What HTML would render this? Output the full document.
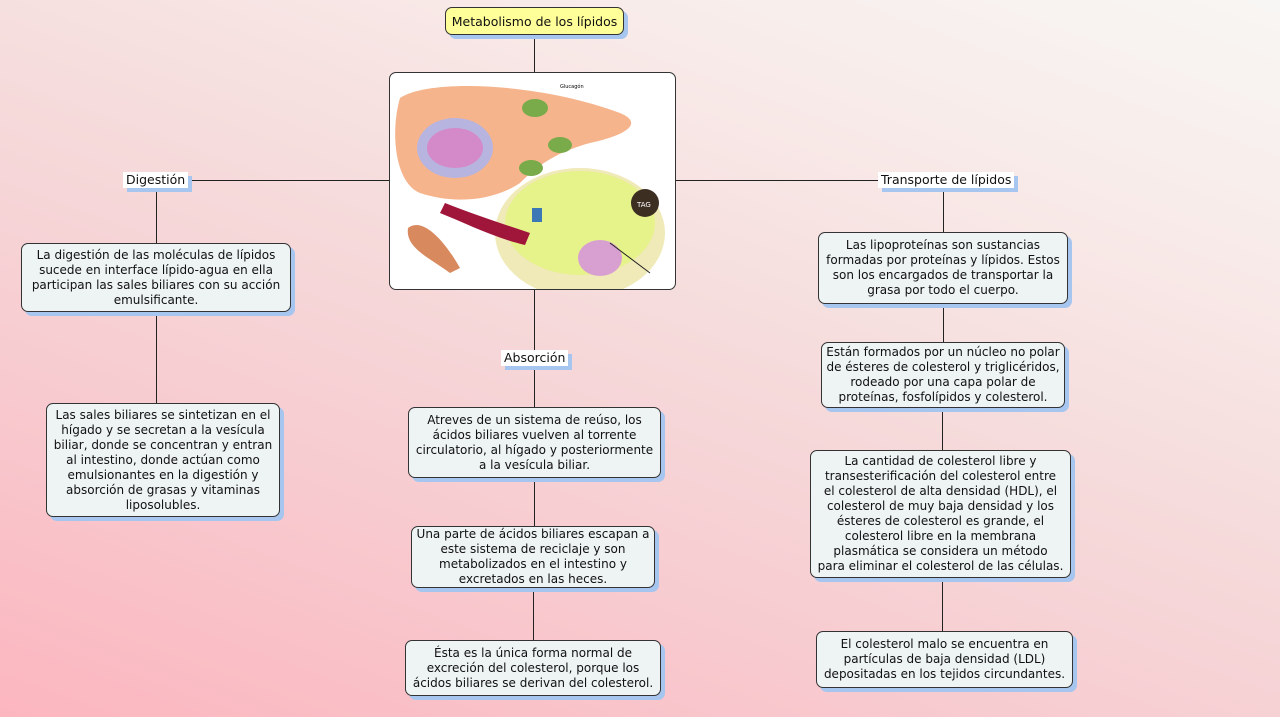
<!DOCTYPE html>
<html><head><meta charset="utf-8"><style>
*{margin:0;padding:0;box-sizing:border-box}
body{width:1280px;height:717px;overflow:hidden;position:relative;font-family:"DejaVu Sans","Liberation Sans",sans-serif;font-size:12px;color:#111;
background:linear-gradient(20deg,#fcb6bf 0%,#f7cbd0 30%,#f6dcdc 55%,#f8ecea 80%,#f8f6f4 100%);}
.l{position:absolute;background:#222}
.b{position:absolute;background:#eef3f4;border:1px solid #333;border-radius:7px;box-shadow:4px 4px 0 #a6c6ef;text-align:center;line-height:15px;white-space:nowrap;display:flex;align-items:center;justify-content:center}
.t{position:absolute;background:#fff;box-shadow:4px 4px 0 #a6c6ef;font-size:12.5px;line-height:16px;padding:0 3px;white-space:nowrap}
</style></head><body>
<div class="l" style="left:534px;top:35px;width:1px;height:37px"></div>
<div class="l" style="left:189px;top:180px;width:200px;height:1px"></div>
<div class="l" style="left:156px;top:188px;width:1px;height:55px"></div>
<div class="l" style="left:156px;top:312px;width:1px;height:91px"></div>
<div class="l" style="left:534px;top:289px;width:1px;height:61px"></div>
<div class="l" style="left:534px;top:366px;width:1px;height:41px"></div>
<div class="l" style="left:534px;top:478px;width:1px;height:48px"></div>
<div class="l" style="left:533px;top:588px;width:1px;height:52px"></div>
<div class="l" style="left:675px;top:180px;width:203px;height:1px"></div>
<div class="l" style="left:943px;top:188px;width:1px;height:44px"></div>
<div class="l" style="left:943px;top:304px;width:1px;height:38px"></div>
<div class="l" style="left:942px;top:408px;width:1px;height:42px"></div>
<div class="l" style="left:942px;top:578px;width:1px;height:53px"></div>

<div class="b" style="left:445px;top:7px;width:179px;height:28px;background:#ffff99;font-size:12.5px">Metabolismo de los lípidos</div>

<div class="b" style="left:389px;top:72px;width:287px;height:218px;background:#fff;box-shadow:none;overflow:hidden">
<svg width="285" height="216" viewBox="0 0 285 216">
<path d="M10 25 C40 5,150 10,230 40 C250 48,245 60,200 70 C170 78,150 90,130 110 C100 130,60 130,30 120 C5 110,0 60,10 25Z" fill="#f5b48c"/>
<ellipse cx="65" cy="75" rx="38" ry="30" fill="#b8b4e0"/>
<ellipse cx="65" cy="75" rx="28" ry="20" fill="#d489c9"/>
<ellipse cx="190" cy="160" rx="85" ry="65" fill="#f0e9b8"/>
<ellipse cx="190" cy="150" rx="75" ry="52" fill="#e6f28a"/>
<circle cx="255" cy="130" r="14" fill="#3d2e22"/>
<text x="247" y="134" font-size="7" fill="#fff" font-family="DejaVu Sans">TAG</text>
<ellipse cx="145" cy="35" rx="13" ry="9" fill="#7aab4a"/>
<ellipse cx="170" cy="72" rx="12" ry="8" fill="#7aab4a"/>
<ellipse cx="141" cy="95" rx="12" ry="8" fill="#7aab4a"/>
<path d="M55 130 C80 140,110 150,140 160 L135 172 C105 165,75 150,50 140Z" fill="#a0153a"/>
<ellipse cx="210" cy="185" rx="22" ry="18" fill="#d8a0d0"/>
<path d="M18 155 C30 145,50 160,70 195 L60 200 C40 185,15 175,18 155Z" fill="#d9895e"/>
<rect x="142" y="135" width="10" height="14" fill="#3c78b5"/>
<line x1="220" y1="170" x2="260" y2="200" stroke="#222"/>
<text x="170" y="15" font-size="5" font-family="DejaVu Sans">Glucagón</text>
</svg></div>

<div class="t" style="left:123px;top:172px">Digestión</div>
<div class="t" style="left:501px;top:350px">Absorción</div>
<div class="t" style="left:878px;top:172px">Transporte de lípidos</div>

<div class="b" style="left:21px;top:243px;width:270px;height:69px">La digestión de las moléculas de lípidos<br>sucede en interface lípido-agua en ella<br>participan las sales biliares con su acción<br>emulsificante.</div>
<div class="b" style="left:46px;top:403px;width:234px;height:114px">Las sales biliares se sintetizan en el<br>hígado y se secretan a la vesícula<br>biliar, donde se concentran y entran<br>al intestino, donde actúan como<br>emulsionantes en la digestión y<br>absorción de grasas y vitaminas<br>liposolubles.</div>

<div class="b" style="left:408px;top:407px;width:253px;height:71px">Atreves de un sistema de reúso, los<br>ácidos biliares vuelven al torrente<br>circulatorio, al hígado y posteriormente<br>a la vesícula biliar.</div>
<div class="b" style="left:411px;top:526px;width:244px;height:62px">Una parte de ácidos biliares escapan a<br>este sistema de reciclaje y son<br>metabolizados en el intestino y<br>excretados en las heces.</div>
<div class="b" style="left:405px;top:640px;width:256px;height:56px">Ésta es la única forma normal de<br>excreción del colesterol, porque los<br>ácidos biliares se derivan del colesterol.</div>

<div class="b" style="left:818px;top:232px;width:250px;height:72px">Las lipoproteínas son sustancias<br>formadas por proteínas y lípidos. Estos<br>son los encargados de transportar la<br>grasa por todo el cuerpo.</div>
<div class="b" style="left:821px;top:342px;width:244px;height:66px">Están formados por un núcleo no polar<br>de ésteres de colesterol y triglicéridos,<br>rodeado por una capa polar de<br>proteínas, fosfolípidos y colesterol.</div>
<div class="b" style="left:810px;top:450px;width:261px;height:128px">La cantidad de colesterol libre y<br>transesterificación del colesterol entre<br>el colesterol de alta densidad (HDL), el<br>colesterol de muy baja densidad y los<br>ésteres de colesterol es grande, el<br>colesterol libre en la membrana<br>plasmática se considera un método<br>para eliminar el colesterol de las células.</div>
<div class="b" style="left:816px;top:631px;width:257px;height:57px">El colesterol malo se encuentra en<br>partículas de baja densidad (LDL)<br>depositadas en los tejidos circundantes.</div>
</body></html>
